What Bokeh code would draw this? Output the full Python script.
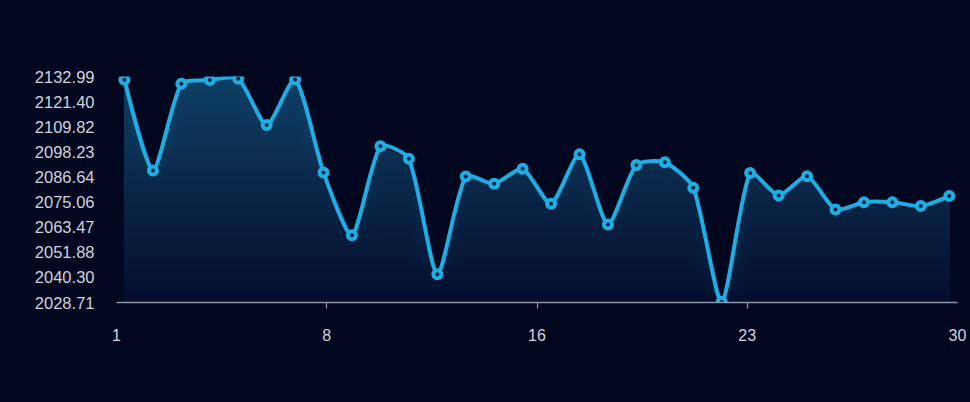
import math
import numpy as np
from bokeh.plotting import figure
from bokeh.models import Range1d, LinearAxis, FixedTicker, NumeralTickFormatter, Label
from bokeh.embed import file_html
from bokeh.resources import INLINE

# ---- data ----
days = list(range(1, 31))
values = [2131.5, 2089.6, 2129.6, 2131.4, 2132.0, 2110.6, 2131.6, 2088.7, 2059.7, 2100.8,
          2095.0, 2041.7, 2086.8, 2083.5, 2090.4, 2074.3, 2097.1, 2064.7, 2092.2, 2093.4,
          2081.6, 2029.0, 2088.5, 2078.1, 2087.0, 2071.6, 2075.0, 2075.0, 2073.2, 2077.8]
ytick_labels = ["2028.71", "2040.30", "2051.88", "2063.47", "2075.06",
                "2086.64", "2098.23", "2109.82", "2121.40", "2132.99"]
xtick_labels = ["1", "8", "16", "23", "30"]

# ---- styling ----
BG = "#01071f"
LINE = "#1eaee4"
MARK_FILL = "#0a2242"
AXIS = "#8d96ab"
LABEL = "#cfd3dc"
FONT = "Liberation Sans"
W, H = 970, 402
ML, MR, MT, MB = 116, 13, 76, 100

ymin, ymax = float(ytick_labels[0]), float(ytick_labels[-1])
x_start, x_end = days[0] - 0.28, days[-1] + 0.29

p = figure(width=W, height=H, output_backend="svg", toolbar_location=None,
           x_range=Range1d(x_start, x_end), y_range=Range1d(ymin, ymax),
           x_axis_location=None,
           min_border_left=ML, min_border_right=MR, min_border_top=MT, min_border_bottom=MB)
p.background_fill_color = BG
p.border_fill_color = BG
p.outline_line_color = None
p.xgrid.visible = False
p.ygrid.visible = False

# y axis
ya = p.yaxis[0]
ya.ticker = FixedTicker(ticks=[float(s) for s in ytick_labels])
ya.formatter = NumeralTickFormatter(format="0.00")
ya.axis_line_color = None
ya.major_tick_line_color = None
ya.minor_tick_line_color = None
ya.major_tick_out = 0
ya.major_label_standoff = 22
ya.major_label_text_color = LABEL
ya.major_label_text_font = FONT
ya.major_label_text_font_size = "16.5px"

# x axis (evenly spaced labels)
p.extra_x_ranges = {"lab": Range1d(0, len(xtick_labels) - 1)}
xa = LinearAxis(x_range_name="lab",
                ticker=FixedTicker(ticks=list(range(len(xtick_labels))),
                                   minor_ticks=list(range(1, len(xtick_labels) - 1))),
                major_label_overrides={i: s for i, s in enumerate(xtick_labels)})
xa.axis_line_color = AXIS
xa.axis_line_width = 1.3
xa.major_tick_out = 0
xa.major_tick_in = 0
xa.minor_tick_out = 6
xa.minor_tick_in = 0
xa.minor_tick_line_color = AXIS
xa.minor_tick_line_width = 1.2
xa.major_label_standoff = 20
xa.major_label_text_color = LABEL
xa.major_label_text_font = FONT
xa.major_label_text_font_size = "16px"
p.add_layout(xa, "below")

# ---- gradient area (stacked bands, top to bottom) ----
vals = np.array(values, dtype=float)
vmax = vals.max()
top_c = np.array([14, 62, 100])
bot_c = np.array([5, 14, 44])
N = 48
for k in range(N):
    hi = vmax - (vmax - ymin) * k / N
    t = k / (N - 1)
    c = (top_c * (1 - t) + bot_c * t).round().astype(int)
    color = "#%02x%02x%02x" % tuple(c)
    p.varea(x=days, y1=ymin, y2=np.minimum(vals, hi), fill_color=color)

# ---- smooth line (bezier through the points) ----
fw, fh = W - ML - MR, H - MT - MB
sx, sy = fw / (x_end - x_start), fh / (ymax - ymin)
xs = np.array(days, dtype=float)
n = len(xs)
smooth = 0.22
cin, cout = [], []
for i in range(n):
    if i == 0 or i == n - 1:
        cin.append((xs[i], vals[i])); cout.append((xs[i], vals[i])); continue
    vx, vy = xs[i + 1] - xs[i - 1], vals[i + 1] - vals[i - 1]
    d0 = math.hypot((xs[i] - xs[i - 1]) * sx, (vals[i] - vals[i - 1]) * sy)
    d1 = math.hypot((xs[i + 1] - xs[i]) * sx, (vals[i + 1] - vals[i]) * sy)
    r = d1 / (d0 + d1)
    cout.append((xs[i] + vx * smooth * r, vals[i] + vy * smooth * r))
    cin.append((xs[i] - vx * smooth * (1 - r), vals[i] - vy * smooth * (1 - r)))

p.bezier(x0=xs[:-1], y0=vals[:-1], x1=xs[1:], y1=vals[1:],
         cx0=[c[0] for c in cout[:-1]], cy0=[c[1] for c in cout[:-1]],
         cx1=[c[0] for c in cin[1:]], cy1=[c[1] for c in cin[1:]],
         line_color=LINE, line_width=4, line_cap="round")

p.scatter(x=days, y=values, marker="circle", size=8, fill_color=MARK_FILL,
          line_color=LINE, line_width=4)

# faint watermark
p.add_layout(Label(x=3.48, y=1988.5, x_range_name="lab", text="itdw.cn",
                   text_color="#000410", text_font="DejaVu Serif", text_font_size="24px"))

html = file_html(p, INLINE)
style = "<style>html, body { background-color: %s !important; }</style>" % BG
if "</head>" in html:
    html = html.replace("</head>", style + "</head>", 1)
open("out.html", "w").write(html)
